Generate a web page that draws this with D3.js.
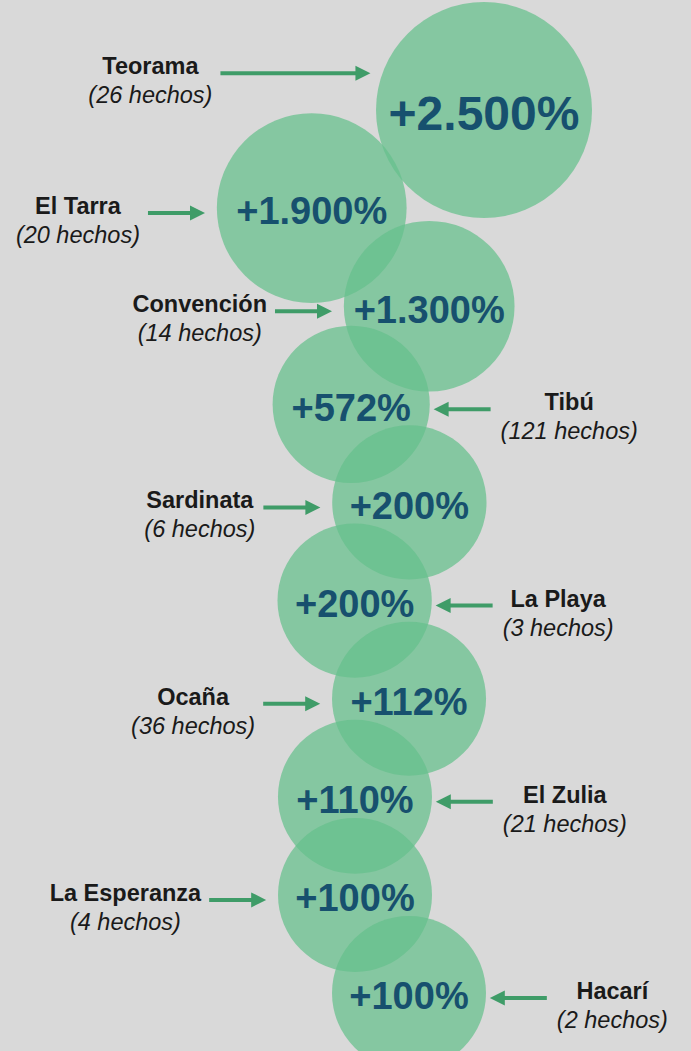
<!DOCTYPE html>
<html lang="es">
<head>
<meta charset="UTF-8">
<title>Aumento de hechos por municipio</title>
<script src="https://d3js.org/d3.v7.min.js"></script>
<style>
  body { margin: 0; background: #d9d9d9; }
  svg { display: block; font-family: "Liberation Sans", Arial, sans-serif; }
  .pct { font-weight: bold; fill: #17506e; }
  .name { font-weight: bold; fill: #1a1a1a; font-size: 23.5px; }
  .count { font-style: italic; fill: #1a1a1a; font-size: 23.5px; }
</style>
</head>
<body>
<script>
// datos
const municipios = ["Teorama", "El Tarra", "Convención", "Tibú", "Sardinata", "La Playa", "Ocaña", "El Zulia", "La Esperanza", "Hacarí"];
const hechos = [26, 20, 14, 121, 6, 3, 36, 21, 4, 2];
const aumento = [2500, 1900, 1300, 572, 200, 200, 112, 110, 100, 100];
// lado de la etiqueta y lado de la burbuja respecto al eje (izq / der)
const lado = ["izq", "izq", "izq", "der", "izq", "der", "izq", "der", "izq", "der"];
const columna = ["der", "izq", "der", "izq", "der", "izq", "der", "izq", "izq", "der"];

const width = 691, height = 1051;
const spine = 382;        // eje vertical de la cadena de burbujas
const arrowLen = 57;
const topArrow = 150;     // la primera etiqueta va mas arriba y mas afuera
const topLift = 0.34;

const esLocale = d3.formatLocale({ decimal: ",", thousands: ".", grouping: [3], currency: ["$", ""] });
const fmt = esLocale.format(",");

const data = municipios.map((m, i) => ({
  name: m, hechos: hechos[i], pct: aumento[i], side: lado[i], col: columna[i], i: i
}));

const y = d3.scalePoint().domain(municipios).range([110, 993]);
const r = d3.scalePow().exponent(2).domain(d3.extent(aumento)).range([77, 108]);
const stagger = d3.scaleLinear().domain(r.range()).range([27, 102]);
const fontSize = d3.scaleLinear().domain([1900, 2500]).range([38, 48]).clamp(true);

data.forEach(d => {
  d.r = r(d.pct);
  d.cx = spine + (d.col === "der" ? 1 : -1) * stagger(d.r);
  d.cy = y(d.name);
  d.ay = d.i === 0 ? d.cy - topLift * d.r : d.cy + 5;
  const half = Math.sqrt(d.r * d.r - (d.ay - d.cy) * (d.ay - d.cy));
  const len = d.i === 0 ? topArrow : arrowLen;
  if (d.side === "izq") {
    d.tip = d.cx - half - 12;
    d.start = d.tip - len;
  } else {
    d.tip = d.cx + half + 4;
    d.start = d.tip + len;
  }
});

const svg = d3.select("body").append("svg")
  .attr("width", width)
  .attr("height", height);

svg.append("rect")
  .attr("width", width)
  .attr("height", height)
  .attr("fill", "#d9d9d9");

svg.append("g")
  .selectAll("circle")
  .data(data)
  .join("circle")
  .attr("cx", d => d.cx)
  .attr("cy", d => d.cy)
  .attr("r", d => d.r)
  .attr("fill", "#65c08c")
  .attr("fill-opacity", 0.73);

svg.append("g")
  .selectAll("text")
  .data(data)
  .join("text")
  .attr("class", "pct")
  .attr("x", d => d.cx)
  .attr("y", d => d.cy + 3)
  .attr("dy", "0.35em")
  .attr("text-anchor", "middle")
  .style("font-size", d => fontSize(d.pct) + "px")
  .text(d => "+" + fmt(d.pct) + "%");

// flechas
const arrows = svg.append("g")
  .selectAll("g")
  .data(data)
  .join("g");

arrows.append("line")
  .attr("x1", d => d.start)
  .attr("x2", d => d.tip - (d.side === "izq" ? 1 : -1) * 14)
  .attr("y1", d => d.ay)
  .attr("y2", d => d.ay)
  .attr("stroke", "#3f9c68")
  .attr("stroke-width", 4);

arrows.append("path")
  .attr("fill", "#3f9c68")
  .attr("d", d => {
    const dir = d.side === "izq" ? 1 : -1;
    return `M${d.tip},${d.ay}L${d.tip - dir * 15},${d.ay - 7.5}L${d.tip - dir * 15},${d.ay + 7.5}Z`;
  });

// etiquetas
const labels = svg.append("g")
  .selectAll("g")
  .data(data)
  .join("g");

labels.append("text")
  .attr("class", "name")
  .attr("text-anchor", "middle")
  .attr("y", d => d.ay + 1)
  .text(d => d.name);

labels.append("text")
  .attr("class", "count")
  .attr("text-anchor", "middle")
  .attr("y", d => d.ay + 30)
  .text(d => `(${d.hechos} hechos)`);

labels.attr("transform", function(d) {
  let w = 0;
  d3.select(this).selectAll("text").each(function() {
    w = Math.max(w, this.getComputedTextLength());
  });
  const x = d.side === "izq" ? d.start - 8 - w / 2 : d.start + 10 + w / 2;
  return `translate(${x},0)`;
});
</script>
</body>
</html>
